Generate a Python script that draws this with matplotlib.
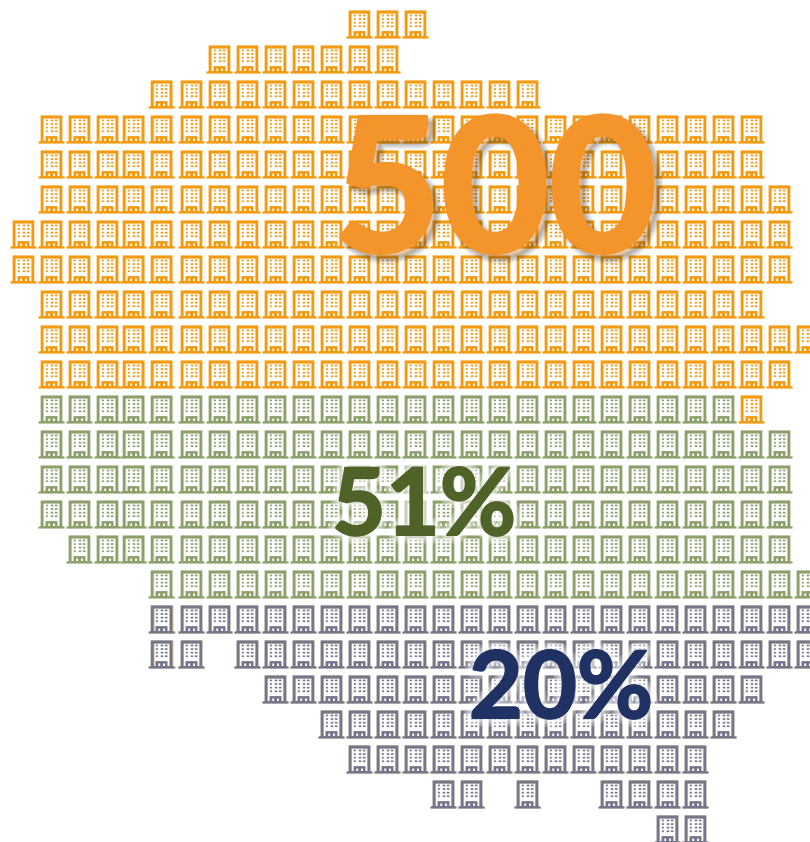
'''500 buildings pictogram'''
import numpy as np
import matplotlib.pyplot as plt
import matplotlib.patheffects as pe
from matplotlib.path import Path

# one entry per row of the pictogram
row_first = [12, 7, 5, 1, 1, 1, 0, 0, 1, 1, 1, 1, 1, 1, 1, 2, 5, 5, 5, 9, 11, 12, 15, 23]
row_last = [14, 13, 18, 26, 26, 27, 27, 27, 26, 28, 27, 26, 27, 27, 27, 27, 28, 28, 28, 26, 25, 24, 24, 24]
row_group = ['a'] * 11 + ['b'] * 6 + ['c'] * 7
# cells left empty inside a row (row, column)
empty_cells = [(18, 7), (22, 17), (22, 19), (22, 20)]
# cell that keeps the first colour in the second block
other_cells = [(11, 26)]

big_labels = ['500', '51%', '20%']

col_a = '#F39A0E'
col_b = '#8DA06B'
col_c = '#75768A'


def rect(x0, y0, x1, y1, hole=False):
    pts = [(x0, y0), (x1, y0), (x1, y1), (x0, y1), (x0, y0)]
    if hole:
        pts = pts[::-1]
    return pts, [Path.MOVETO, Path.LINETO, Path.LINETO, Path.LINETO, Path.CLOSEPOLY]


def to_path(parts):
    verts = []
    codes = []
    for p, c in parts:
        verts += p
        codes += c
    return Path(np.array(verts, dtype=float), codes)


def frame():
    return [rect(-13, -14, 13, -12), rect(-10.8, -13, 10.8, 14), rect(-8, -12, 8, 11), ]


def building():
    parts = [rect(-13, -14, 13, -12), rect(-10.8, -13, 10.8, 14), rect(-8, -12, 8, 11, True)]
    for wy in [8.2, 4.6, 1.0, -2.6]:
        for wx0, wx1 in [(-5.6, -3.6), (-0.8, 1.8), (3.4, 6)]:
            parts.append(rect(wx0, wy, wx1, wy + 1.7))
    parts.append(rect(-6, -12, 6, -6.6))
    parts.append(rect(-3.2, -12, -1.4, -9, True))
    parts.append(rect(1.6, -12, 3.4, -9, True))
    return to_path(parts)


# columns 4 and 5 sit a little to the left of the regular grid
def col_pos(c):
    return c - 0.04 if c in (4, 5) else c


cols = {'a': [], 'b': [], 'c': []}
rows = {'a': [], 'b': [], 'c': []}
for r in range(len(row_first)):
    for c in range(row_first[r], row_last[r] + 1):
        if (r, c) in empty_cells:
            continue
        g = 'a' if (r, c) in other_cells else row_group[r]
        cols[g].append(col_pos(c))
        rows[g].append(r)

fig = plt.figure(figsize=(8.1, 8.42), dpi=100)
ax = fig.add_axes([0, 0, 1, 1])
ax.set_xlim(-22.5 / 28, (810 - 22.5) / 28)
ax.set_ylim((842 - 24) / 35, -24 / 35)
ax.axis('off')

marker = building()
# outline only, the walls as a ring
marker_under = to_path([rect(-13, -14, 13, -12), rect(-10.8, -13, 10.8, 14), rect(-8, -12, 8, 11, True)])
s = (2 * 14 * 0.72) ** 2
dx = 0.7 / 28
# pale copy of the outline behind each icon, tan behind the grey ones
under = {'a': '#FBE3BE', 'b': '#E3E8D9', 'c': '#C9AC84'}
over = {'a': col_a, 'b': col_b, 'c': col_c}
for g in ['a', 'b', 'c']:
    p0 = ax.scatter(np.array(cols[g]) + dx, rows[g], marker=marker_under, s=s, c=under[g], linewidths=0, zorder=1)
    p0.set_snap(False)
    p1 = ax.scatter(cols[g], rows[g], marker=marker, s=s, c=over[g], linewidths=0, zorder=2)
    p1.set_snap(False)


def soft_shadow(dist, colour):
    out = []
    for w in [8, 6, 4, 2]:
        out.append(pe.Stroke(offset=(dist, -dist), linewidth=w, foreground='k', alpha=0.07))
    out.append(pe.Stroke(linewidth=3, foreground=colour))
    out.append(pe.Normal())
    return out


def glow(colour):
    out = []
    for w in [12, 8, 5]:
        out.append(pe.Stroke(linewidth=w, foreground='w', alpha=0.28))
    out.append(pe.Stroke(linewidth=1.5, foreground=colour))
    out.append(pe.Normal())
    return out


t1 = ax.text(495 / 810, 1 - 198 / 842, big_labels[0], transform=ax.transAxes, fontfamily='Lato', fontweight='bold',
             fontsize=134, color='#F4952B', ha='center', va='center', zorder=5)
t1.set_path_effects(soft_shadow(4, '#F4952B'))
t2 = ax.text(424 / 810, 1 - 508 / 842, big_labels[1], transform=ax.transAxes, fontfamily='Lato', fontweight='bold',
             fontsize=67, color='#4F6228', ha='center', va='center', zorder=5)
t2.set_path_effects(glow('#4F6228'))
t3 = ax.text(561 / 810, 1 - 691 / 842, big_labels[2], transform=ax.transAxes, fontfamily='Lato', fontweight='bold',
             fontsize=67, color='#1F3263', ha='center', va='center', zorder=5)
t3.set_path_effects(glow('#1F3263'))

fig.savefig('out.png', dpi=100, facecolor='w')
